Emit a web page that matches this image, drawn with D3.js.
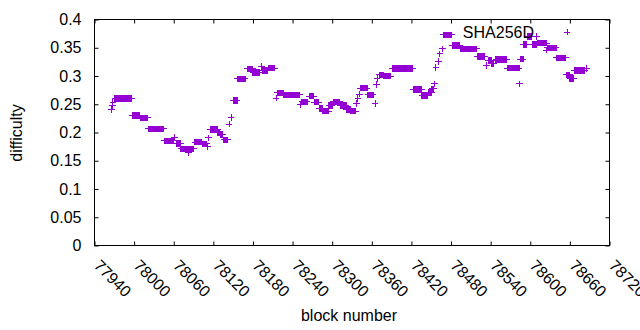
<!DOCTYPE html>
<html><head><meta charset="utf-8">
<script src="https://cdn.jsdelivr.net/npm/d3@7"></script>
<style>
body{margin:0;background:#fff}
svg{display:block}
text{font-family:"Liberation Sans",Arial,sans-serif;font-size:16px;fill:#000}
</style>
</head><body>
<svg id="chart" width="640" height="330"></svg>
<script>
// Runs of blocks sharing the same difficulty (start block, end block, value)
const runStart = [77966,77967,77968,77971,77998,78010,78022,78046,78061,78064,78071,78082,78092,78103,78111,78113,78116,78127,78131,78136,78144,78147,78150,78157,78171,78180,78193,78194,78204,78215,78217,78227,78252,78254,78265,78273,78281,78286,78295,78302,78313,78322,78328,78337,78339,78341,78343,78354,78365,78367,78368,78372,78378,78391,78423,78436,78446,78451,78455,78457,78461,78463,78467,78469,78482,78494,78520,78534,78537,78542,78548,78565,78584,78585,78590,78596,78603,78610,78611,78625,78626,78640,78655,78660,78667,78685];
const runEnd   = [77966,77967,77968,77996,78008,78020,78045,78060,78061,78070,78090,78082,78102,78110,78111,78113,78126,78130,78134,78141,78144,78147,78156,78168,78179,78190,78193,78202,78213,78215,78226,78251,78252,78262,78272,78280,78285,78294,78300,78311,78321,78327,78335,78337,78339,78341,78353,78362,78365,78367,78368,78377,78389,78422,78435,78445,78450,78454,78455,78457,78461,78463,78467,78481,78493,78519,78531,78534,78541,78545,78564,78583,78584,78589,78595,78602,78609,78610,78625,78625,78639,78654,78659,78666,78682,78685];
const runValue = [0.241,0.247,0.253,0.260,0.230,0.226,0.2065,0.185,0.191,0.181,0.171,0.164,0.183,0.180,0.175,0.1906,0.205,0.200,0.196,0.187,0.215,0.2265,0.257,0.295,0.3127,0.306,0.317,0.310,0.314,0.261,0.270,0.2665,0.249,0.2543,0.2646,0.2537,0.242,0.238,0.2483,0.2543,0.2483,0.2412,0.238,0.251,0.260,0.268,0.2785,0.2667,0.251,0.285,0.296,0.302,0.300,0.3135,0.2756,0.266,0.271,0.277,0.286,0.315,0.326,0.339,0.348,0.3727,0.3545,0.348,0.334,0.3186,0.327,0.322,0.3287,0.314,0.286,0.330,0.3554,0.3704,0.356,0.370,0.3584,0.346,0.3496,0.332,0.302,0.296,0.3097,0.3138];

const xTicks = [77940,78000,78060,78120,78180,78240,78300,78360,78420,78480,78540,78600,78660,78720];
const yTicks = [0,0.05,0.1,0.15,0.2,0.25,0.3,0.35,0.4];
const yTickLabels = ["0","0.05","0.1","0.15","0.2","0.25","0.3","0.35","0.4"];
const seriesName = "SHA256D";
const xTitle = "block number";
const yTitle = "difficulty";

const points = [];
runStart.forEach((s, i) => {
  for (let b = s; b <= runEnd[i]; b++) points.push({block: b, value: runValue[i]});
});

const L = 94.5, R = 609.5, T = 19.5, B = 245.5;
const x = d3.scaleLinear().domain([77940, 78720]).range([L, R]);
const y = d3.scaleLinear().domain([0, 0.4]).range([B, T]);
const color = "#9400d3";
const svg = d3.select("#chart");

// ticks
const gb = svg.append("g").attr("transform", `translate(0,${B})`)
  .call(d3.axisBottom(x).tickValues(xTicks).tickSize(-4).tickSizeOuter(0).tickFormat(d3.format("d")));
gb.selectAll(".tick text")
  .attr("x", 0).attr("y", 0).attr("dy", "0.35em")
  .attr("text-anchor", "start")
  .attr("transform", "translate(2,17) rotate(45)");
const gt = svg.append("g").attr("transform", `translate(0,${T})`)
  .call(d3.axisTop(x).tickValues(xTicks).tickSize(-4).tickSizeOuter(0).tickFormat(""));
const gl = svg.append("g").attr("transform", `translate(${L},0)`)
  .call(d3.axisLeft(y).tickValues(yTicks).tickSize(-4).tickSizeOuter(0).tickPadding(13)
    .tickFormat((d, i) => yTickLabels[i]));
const gr = svg.append("g").attr("transform", `translate(${R},0)`)
  .call(d3.axisRight(y).tickValues(yTicks).tickSize(-4).tickSizeOuter(0).tickFormat(""));
svg.selectAll(".domain").remove();
svg.selectAll(".tick line").attr("stroke", "#000").attr("stroke-width", 1);
svg.selectAll(".tick text").style("font-family", '"Liberation Sans",Arial,sans-serif').style("font-size", "16px").attr("fill", "#000");

// border
svg.append("rect").attr("x", L).attr("y", T).attr("width", R - L).attr("height", B - T)
  .attr("fill", "none").attr("stroke", "#000").attr("stroke-width", 1);

// points
const h = 3.3;
const plus = `M${-h},0H${h}M0,${-h}V${h}`;
svg.append("g").attr("shape-rendering", "crispEdges")
  .selectAll("path").data(points).join("path")
  .attr("transform", d => `translate(${x(d.block)},${y(d.value)})`)
  .attr("d", plus).attr("stroke", color).attr("stroke-width", 1).attr("fill", "none");

// legend
svg.append("text").attr("x", 534).attr("y", 38).attr("text-anchor", "end").text(seriesName);
svg.append("path").attr("transform", "translate(567,32)").attr("d", plus)
  .attr("shape-rendering", "crispEdges")
  .attr("stroke", color).attr("stroke-width", 1).attr("fill", "none");

// axis titles
svg.append("text").attr("x", 349).attr("y", 321).attr("text-anchor", "middle").text(xTitle);
svg.append("text").attr("transform", "translate(22,133) rotate(-90)").attr("text-anchor", "middle").text(yTitle);
</script>
</body></html>
